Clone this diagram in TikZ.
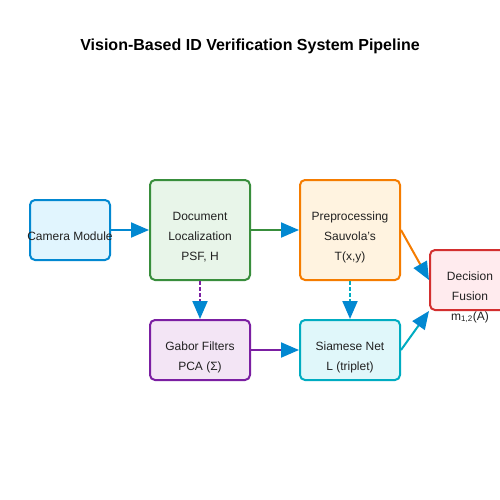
\documentclass[tikz,border=0pt]{standalone}
\usepackage{fontspec}
\setmainfont{Liberation Sans}
\usetikzlibrary{arrows.meta}
\definecolor{camS}{HTML}{0288D1}\definecolor{camF}{HTML}{E1F5FE}
\definecolor{docS}{HTML}{388E3C}\definecolor{docF}{HTML}{E8F5E9}
\definecolor{preS}{HTML}{F57C00}\definecolor{preF}{HTML}{FFF3E0}
\definecolor{gabS}{HTML}{7B1FA2}\definecolor{gabF}{HTML}{F3E5F5}
\definecolor{siaS}{HTML}{00ACC1}\definecolor{siaF}{HTML}{E0F7FA}
\definecolor{decS}{HTML}{D32F2F}\definecolor{decF}{HTML}{FFEBEE}
\definecolor{txt}{HTML}{212121}
\begin{document}
\begin{tikzpicture}[x=1pt,y=-1pt,
  box/.style={draw, line width=2pt, rounded corners=5pt, inner sep=0pt},
  lbl/.style={anchor=base, inner sep=0pt, font=\fontsize{12}{14}\selectfont, text=txt},
  conn/.style={line width=2pt, -{Triangle[length=18pt,width=15pt,fill=camS,color=camS]}}]
\clip (0,0) rectangle (500,500);
\fill[white] (0,0) rectangle (500,500);
\node[anchor=base, inner sep=0pt, font=\bfseries\fontsize{16}{19}\selectfont] (title) at (250,51) {Vision-Based ID Verification System Pipeline};
% boxes
\node[box, draw=camS, fill=camF, minimum width=80pt, minimum height=60pt] (cam) at (70,230) {};
\node[box, draw=docS, fill=docF, minimum width=100pt, minimum height=100pt] (doc) at (200,230) {};
\node[box, draw=preS, fill=preF, minimum width=100pt, minimum height=100pt] (pre) at (350,230) {};
\node[box, draw=gabS, fill=gabF, minimum width=100pt, minimum height=60pt] (gab) at (200,350) {};
\node[box, draw=siaS, fill=siaF, minimum width=100pt, minimum height=60pt] (sia) at (350,350) {};
\node[box, draw=decS, fill=decF, minimum width=80pt, minimum height=60pt] (dec) at (470,280) {};
% labels
\node[lbl] (camT) at (70,240) {Camera Module};
\node[lbl] (docT1) at (200,220) {Document};
\node[lbl] (docT2) at (200,240) {Localization};
\node[lbl] (docT3) at (200,260) {PSF, H};
\node[lbl] (preT1) at (350,220) {Preprocessing};
\node[lbl] (preT2) at (350,240) {Sauvola's};
\node[lbl] (preT3) at (350,260) {T(x,y)};
\node[lbl] (gabT1) at (200,350) {Gabor Filters};
\node[lbl] (gabT2) at (200,370) {PCA (Σ)};
\node[lbl] (siaT1) at (350,350) {Siamese Net};
\node[lbl] (siaT2) at (350,370) {L (triplet)};
\node[lbl] (decT1) at (470,280) {Decision};
\node[lbl] (decT2) at (470,300) {Fusion};
\node[lbl] (decT3) at (470,320) {m\textsubscript{1,2}(A)};
% connectors
\draw[conn, camS] (cam.east) -- (doc.west);
\draw[conn, docS] (doc.east) -- (pre.west);
\draw[conn, gabS, dash pattern=on 4pt off 2pt] (doc.south) -- (gab.north);
\draw[conn, siaS, dash pattern=on 4pt off 2pt] (pre.south) -- (sia.north);
\draw[conn, preS] (pre.east) -- (dec.west);
\draw[conn, gabS] (gab.east) -- (sia.west);
\draw[conn, siaS] (sia.east) -- (dec.south west);
\end{tikzpicture}
\end{document}
